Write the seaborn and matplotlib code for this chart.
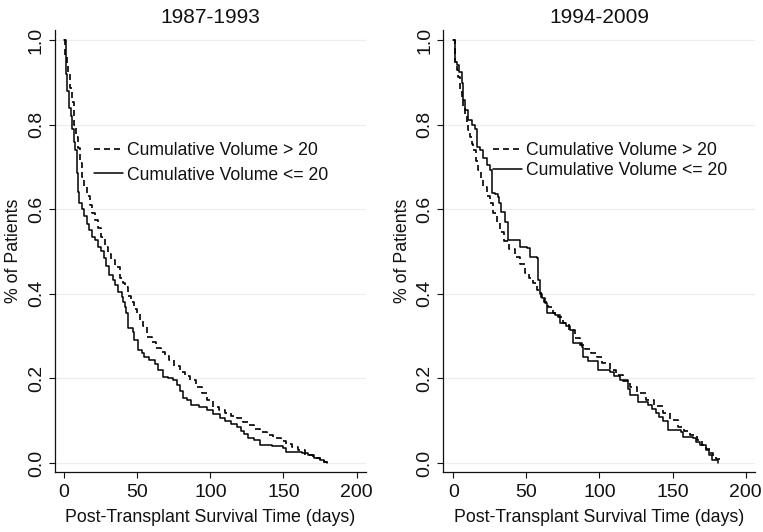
import matplotlib
matplotlib.use("Agg")
import matplotlib.pyplot as plt
import seaborn as sns

sns.set_theme(style="white")
plt.rcParams['font.family'] = ['Liberation Sans', 'DejaVu Sans']
plt.rcParams['text.color'] = '#111111'
plt.rcParams['axes.labelcolor'] = '#111111'
plt.rcParams['xtick.color'] = '#111111'
plt.rcParams['ytick.color'] = '#111111'

titles = ["1987-1993", "1994-2009"]
legend_labels = ["Cumulative Volume > 20", "Cumulative Volume <= 20"]
x_ticks = [0, 50, 100, 150, 200]
y_ticks = [0.0, 0.2, 0.4, 0.6, 0.8, 1.0]

# Panel 1 (1987-1993), Cumulative Volume > 20
p1_hi_t = [0, 1, 2, 3, 4, 5.7, 7, 8.5, 9.8, 11, 12, 13.5, 15.5, 17.5, 19, 21, 23, 25, 28, 30, 32, 35, 38, 40, 41.6, 44, 46, 48, 50, 52, 54, 57, 60, 63, 66, 69, 72, 75, 79, 83, 86, 90, 94, 98, 102, 106, 110, 114, 118, 122, 126, 130, 134, 139, 143, 148, 152, 156, 160, 165, 170, 175, 178, 180]
p1_hi_s = [1.0, 0.96, 0.94, 0.92, 0.886, 0.853, 0.80, 0.77, 0.745, 0.71, 0.676, 0.655, 0.63, 0.61, 0.59, 0.574, 0.555, 0.535, 0.51, 0.495, 0.48, 0.463, 0.437, 0.425, 0.416, 0.395, 0.38, 0.365, 0.355, 0.335, 0.325, 0.298, 0.285, 0.272, 0.262, 0.252, 0.243, 0.23, 0.215, 0.205, 0.196, 0.18, 0.165, 0.15, 0.132, 0.125, 0.118, 0.11, 0.106, 0.098, 0.09, 0.08, 0.073, 0.066, 0.06, 0.052, 0.045, 0.038, 0.03, 0.02, 0.012, 0.007, 0.003, 0.0]
# Panel 1 (1987-1993), Cumulative Volume <= 20
p1_lo_t = [0, 1.4, 2.3, 3.6, 4.5, 5.7, 6.5, 7.5, 8.6, 9.6, 10.5, 12, 13.5, 15.5, 17, 19, 21, 23, 25, 27, 29, 31, 33.4, 35, 37, 39.6, 40.5, 41.6, 42.5, 43.7, 44, 47, 48, 50.5, 53, 55, 58, 62, 64, 68, 71, 74.5, 77, 79, 81, 84, 87, 92, 97.5, 102, 106.5, 110, 114, 118, 121, 123, 125.6, 130, 134, 142, 149.5, 152, 163, 167, 171, 175, 178, 180]
p1_lo_s = [1.0, 0.92, 0.88, 0.84, 0.82, 0.79, 0.76, 0.74, 0.686, 0.64, 0.615, 0.60, 0.585, 0.565, 0.55, 0.535, 0.527, 0.51, 0.50, 0.485, 0.465, 0.445, 0.433, 0.42, 0.405, 0.392, 0.38, 0.369, 0.355, 0.338, 0.32, 0.31, 0.29, 0.267, 0.26, 0.25, 0.243, 0.235, 0.22, 0.203, 0.20, 0.196, 0.185, 0.17, 0.154, 0.148, 0.137, 0.132, 0.125, 0.115, 0.106, 0.10, 0.092, 0.085, 0.075, 0.068, 0.059, 0.055, 0.043, 0.04, 0.035, 0.026, 0.024, 0.018, 0.012, 0.007, 0.003, 0.0]

# Panel 2 (1994-2009), Cumulative Volume > 20
p2_hi_t = [0, 1.2, 2.2, 3.4, 4.6, 5.7, 6.8, 8, 9.1, 10.2, 11.4, 12.5, 13.7, 15.3, 17, 18.8, 20.5, 22.8, 25, 27.3, 29.7, 32, 35, 38, 42, 45.6, 49, 52, 54.7, 57, 60, 62, 64.6, 68, 71.6, 75, 79, 83, 86.6, 90, 94, 98, 102, 107, 111, 116, 121, 126, 132, 137, 143.5, 148, 153.7, 158, 162, 166.5, 170, 173, 175.6, 178, 180, 182.4]
p2_hi_s = [1.0, 0.948, 0.93, 0.913, 0.877, 0.86, 0.842, 0.822, 0.804, 0.787, 0.771, 0.755, 0.74, 0.715, 0.693, 0.672, 0.652, 0.632, 0.615, 0.59, 0.567, 0.547, 0.525, 0.505, 0.487, 0.47, 0.449, 0.437, 0.425, 0.409, 0.392, 0.38, 0.369, 0.355, 0.345, 0.33, 0.315, 0.295, 0.279, 0.27, 0.26, 0.25, 0.237, 0.22, 0.208, 0.195, 0.18, 0.165, 0.149, 0.135, 0.118, 0.102, 0.085, 0.075, 0.065, 0.054, 0.042, 0.033, 0.024, 0.015, 0.01, 0.002]
# Panel 2 (1994-2009), Cumulative Volume <= 20
p2_lo_t = [0, 1.2, 2.5, 4, 5.7, 6.8, 8, 10.3, 12.6, 14.8, 16, 18.5, 20.5, 22.8, 25, 26.3, 28.5, 30.5, 31.5, 32.5, 35.4, 37.4, 43.6, 45.6, 50.4, 52.4, 57, 58, 59.3, 61, 62.7, 64, 69.5, 73, 77, 80, 82, 88, 89, 92, 99, 107, 110, 114, 119.5, 121, 126.5, 133, 136, 139, 141, 143.5, 147, 156, 157, 164, 166, 169, 173, 175, 177, 181]
p2_lo_s = [1.0, 0.948, 0.94, 0.924, 0.898, 0.858, 0.835, 0.81, 0.80, 0.79, 0.747, 0.74, 0.72, 0.704, 0.693, 0.638, 0.635, 0.629, 0.615, 0.593, 0.57, 0.527, 0.527, 0.51, 0.508, 0.487, 0.485, 0.432, 0.40, 0.39, 0.378, 0.355, 0.35, 0.33, 0.325, 0.314, 0.284, 0.275, 0.25, 0.24, 0.22, 0.215, 0.205, 0.196, 0.175, 0.161, 0.144, 0.137, 0.128, 0.118, 0.108, 0.10, 0.078, 0.073, 0.061, 0.059, 0.05, 0.043, 0.031, 0.02, 0.007, 0.0]

panels = [(p1_hi_t, p1_hi_s, p1_lo_t, p1_lo_s), (p2_hi_t, p2_hi_s, p2_lo_t, p2_lo_s)]

W, H = 763, 532
fig = plt.figure(figsize=(W / 100, H / 100), dpi=100)
axes_pos = [[55 / W, 60 / H, 311 / W, 442 / H], [443.3 / W, 60 / H, 311.7 / W, 442 / H]]
xlims = [(-6.15, 206.4), (-6.84, 206.4)]
legend_anchor = [(0.125, 0.747), (0.159, 0.747)]
legend_spacing = [0.44, 0.19]

for i, (ht, hs, lt, ls) in enumerate(panels):
    ax = fig.add_axes(axes_pos[i])
    for y in y_ticks:
        ax.axhline(y, color="#eeeeee", lw=0.9, zorder=0)
    sns.lineplot(x=ht, y=hs, ax=ax, drawstyle="steps-post", color="black", lw=1.2,
                 linestyle=(0, (3.6, 2.4)), label=legend_labels[0], estimator=None, sort=False)
    sns.lineplot(x=lt, y=ls, ax=ax, drawstyle="steps-post", color="black", lw=1.1,
                 linestyle="-", label=legend_labels[1], estimator=None, sort=False)
    ax.set_xlim(*xlims[i])
    ax.set_ylim(-0.0213, 1.0236)
    ax.set_xticks(x_ticks)
    ax.set_yticks(y_ticks)
    ax.set_yticklabels([f"{v:.1f}" for v in y_ticks], rotation=90, va="center")
    ax.tick_params(axis="both", direction="out", length=4.3, width=0.8, color="#111111",
                   labelsize=14, left=True, bottom=True)
    ax.tick_params(axis="x", pad=4)
    ax.tick_params(axis="y", pad=3)
    for s in ["top", "right"]:
        ax.spines[s].set_visible(False)
    for s in ["left", "bottom"]:
        ax.spines[s].set_color("#111111")
        ax.spines[s].set_linewidth(0.9)
    ax.set_title(titles[i], fontsize=15, pad=5)
    ax.set_xlabel("Post-Transplant Survival Time (days)", fontsize=12.8, labelpad=6)
    ax.set_ylabel("% of Patients", fontsize=12.8, labelpad=4)
    ax.grid(False)
    ax.legend(loc="upper left", bbox_to_anchor=legend_anchor[i], frameon=False,
              fontsize=12.7, handlelength=1.65, handletextpad=0.23,
              labelspacing=legend_spacing[i], borderaxespad=0, borderpad=0)

fig.savefig("out.png", dpi=100)
